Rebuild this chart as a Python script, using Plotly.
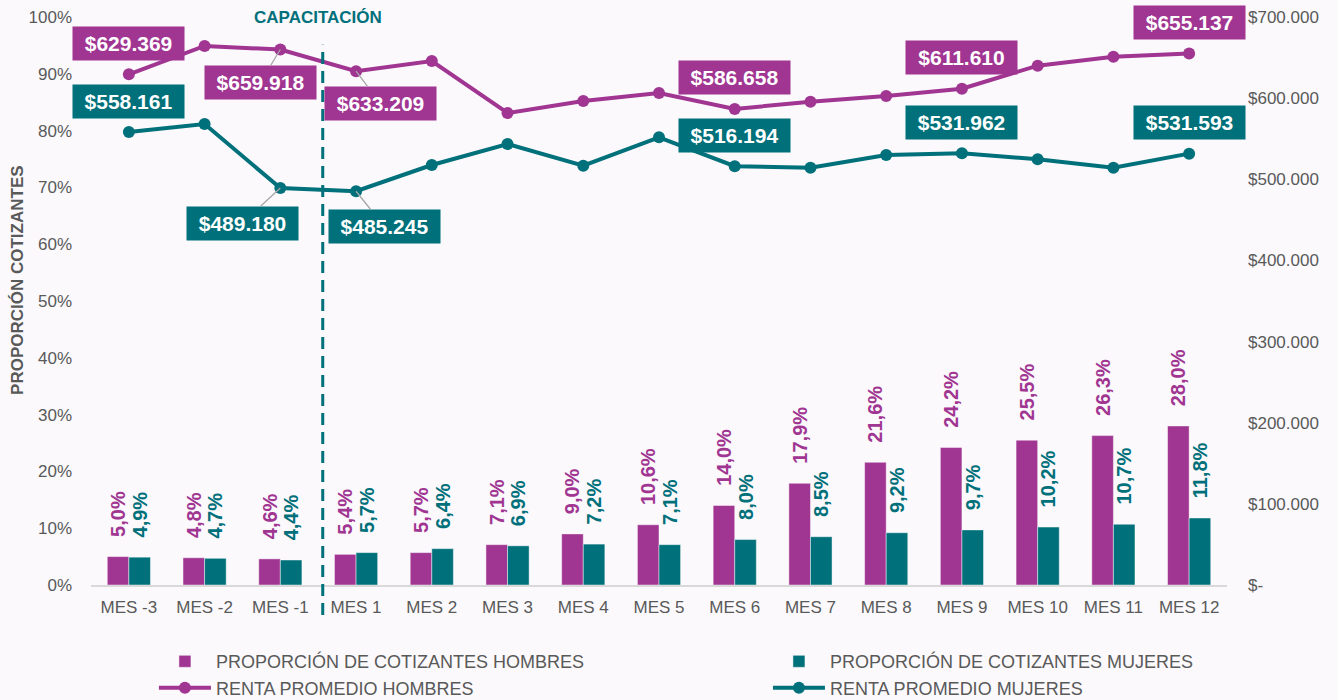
import plotly.graph_objects as go

categories = ["MES -3", "MES -2", "MES -1", "MES 1", "MES 2", "MES 3", "MES 4", "MES 5",
              "MES 6", "MES 7", "MES 8", "MES 9", "MES 10", "MES 11", "MES 12"]
prop_hombres = [5.0, 4.8, 4.6, 5.4, 5.7, 7.1, 9.0, 10.6, 14.0, 17.9, 21.6, 24.2, 25.5, 26.3, 28.0]
prop_mujeres = [4.9, 4.7, 4.4, 5.7, 6.4, 6.9, 7.2, 7.1, 8.0, 8.5, 9.2, 9.7, 10.2, 10.7, 11.8]
renta_hombres = [629369, 664300, 659918, 633209, 645800, 581700, 596500, 606300,
                 586658, 595600, 602600, 611610, 640000, 651100, 655137]
renta_mujeres = [558161, 568100, 489180, 485245, 517600, 543500, 516800, 551700,
                 516194, 514300, 529900, 531962, 524600, 514300, 531593]
left_ticks = [0, 10, 20, 30, 40, 50, 60, 70, 80, 90, 100]
right_ticks = [0, 100000, 200000, 300000, 400000, 500000, 600000, 700000]
right_tick_text = ["$-", "$100.000", "$200.000", "$300.000", "$400.000", "$500.000", "$600.000", "$700.000"]

# labelled rent points: (category index, leader offsets or None)
labels_h = [(0, None), (2, (-20, 33)), (3, (24, 32)), (8, None), (11, None), (14, None)]
labels_m = [(0, None), (2, (-38, 35)), (3, (28, 35)), (8, None), (11, None), (14, None)]

PURPLE = "#A03592"
TEAL = "#00707A"
GRAY = "#595959"
BG = "#FBF9FC"
FONT = "Liberation Sans, Arial, sans-serif"


def pct(v):
    return "\u00a0\u00a0\u00a0" + f"{v:.1f}".replace(".", ",") + "%"


def money(v):
    return "$" + f"{v:,.0f}".replace(",", ".")


fig = go.Figure()
fig.add_trace(go.Bar(
    x=categories, y=prop_hombres, name="PROPORCIÓN DE COTIZANTES HOMBRES",
    marker=dict(color=PURPLE, line=dict(color="rgba(255,255,255,0.45)", width=1)),
    text=[pct(v) for v in prop_hombres], textposition="outside", textangle=-90,
    constraintext="none", cliponaxis=False,
    textfont=dict(color=PURPLE, size=20, family=FONT, weight="bold"),
    legend="legend",
))
fig.add_trace(go.Bar(
    x=categories, y=prop_mujeres, name="PROPORCIÓN DE COTIZANTES MUJERES",
    marker=dict(color=TEAL, line=dict(color="rgba(255,255,255,0.45)", width=1)),
    text=[pct(v) for v in prop_mujeres], textposition="outside", textangle=-90,
    constraintext="none", cliponaxis=False,
    textfont=dict(color=TEAL, size=20, family=FONT, weight="bold"),
    legend="legend2",
))
fig.add_trace(go.Scatter(
    x=categories, y=renta_hombres, name="RENTA PROMEDIO HOMBRES", yaxis="y2",
    mode="lines+markers", line=dict(color=PURPLE, width=4),
    marker=dict(color=PURPLE, size=12), legend="legend",
))
fig.add_trace(go.Scatter(
    x=categories, y=renta_mujeres, name="RENTA PROMEDIO MUJERES", yaxis="y2",
    mode="lines+markers", line=dict(color=TEAL, width=4),
    marker=dict(color=TEAL, size=12), legend="legend2",
))

annotations = []
for series, color, labels in ((renta_hombres, PURPLE, labels_h), (renta_mujeres, TEAL, labels_m)):
    for idx, leader in labels:
        base = dict(
            x=categories[idx], y=series[idx], xref="x", yref="y2",
            text="<b>" + money(series[idx]) + "</b>",
            font=dict(color="white", size=21, family=FONT),
            bgcolor=color, width=111, height=33, borderpad=0,
            align="center", valign="middle",
        )
        if leader is None:
            base.update(showarrow=False, yshift=31)
        else:
            base.update(showarrow=True, ax=leader[0], ay=leader[1], axref="pixel", ayref="pixel",
                        arrowhead=0, arrowwidth=1.3, arrowcolor="#A6A6A6", standoff=0)
        annotations.append(base)

annotations.append(dict(
    x=2.5, y=1, xref="x", yref="paper", text="<b>CAPACITACIÓN</b>", showarrow=False,
    font=dict(color=TEAL, size=17, family=FONT), yanchor="middle",
))
annotations.append(dict(
    x=-0.0643, y=0.537, xref="paper", yref="paper", text="<b>PROPORCIÓN COTIZANTES</b>",
    showarrow=False, textangle=-90, font=dict(color=GRAY, size=17, family=FONT),
    xanchor="center", yanchor="middle",
))

fig.update_layout(
    width=1338, height=700,
    margin=dict(l=91, r=111, t=17, b=115, autoexpand=False),
    paper_bgcolor=BG, plot_bgcolor=BG,
    font=dict(family=FONT, color=GRAY, size=17),
    barmode="group", bargap=0.43, bargroupgap=0,
    showlegend=True,
    legend=dict(x=0.0554, y=-0.1023, xanchor="left", yanchor="top", orientation="v",
                itemwidth=52, font=dict(size=18, color=GRAY, family=FONT),
                bgcolor="rgba(0,0,0,0)", traceorder="normal"),
    legend2=dict(x=0.5959, y=-0.1023, xanchor="left", yanchor="top", orientation="v",
                 itemwidth=52, font=dict(size=18, color=GRAY, family=FONT),
                 bgcolor="rgba(0,0,0,0)", traceorder="normal"),
    xaxis=dict(range=[-0.5, 14.5], showgrid=False, showline=True, linecolor="#D9D9D9",
               linewidth=1.5, ticks="", ticklabelstandoff=6, tickfont=dict(size=17, color=GRAY),
               zeroline=False, automargin=False),
    yaxis=dict(range=[0, 100], tickvals=left_ticks, ticktext=[f"{t}%" for t in left_ticks],
               showgrid=False, zeroline=False, showline=False, ticks="",
               ticklabelstandoff=18, tickfont=dict(size=17, color=GRAY), automargin=False),
    yaxis2=dict(range=[0, 700000], overlaying="y", side="right", tickvals=right_ticks,
                ticktext=right_tick_text, showgrid=False, zeroline=False, showline=False,
                ticks="", ticklabelstandoff=20, tickfont=dict(size=17, color=GRAY),
                automargin=False),
    annotations=annotations,
    shapes=[dict(type="line", xref="x", yref="paper", x0=2.56, x1=2.56, y0=-0.053, y1=0.951,
                 line=dict(color=TEAL, width=3, dash="12px,7px"))],
)

fig.write_html(
    "out.html",
    config={"displayModeBar": False},
    post_script="document.body.style.margin='0';document.body.style.background='" + BG + "';",
)
